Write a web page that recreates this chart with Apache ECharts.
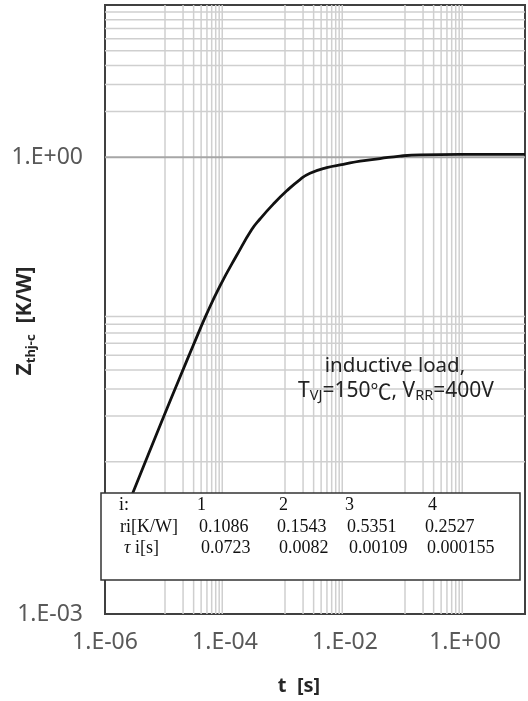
<!DOCTYPE html>
<html><head><meta charset="utf-8">
<script src="https://cdn.jsdelivr.net/npm/echarts@6/dist/echarts.min.js"></script>
<style>html,body{margin:0;padding:0;background:#fff}#c{width:528px;height:701px}</style>
</head><body><div id="c"></div>
<script>
// ---- data ----
const timeValues = [1.5e-6, 2.96e-6, 9.37e-6, 1.78e-5, 2.96e-5, 4.95e-5, 8.26e-5, 1.57e-4, 2.79e-4, 3.83e-4, 6.38e-4, 1.07e-3, 1.78e-3, 2.61e-3, 4.95e-3, 9.37e-3, 0.0178, 0.0383, 0.0826, 0.178, 0.826, 10];
const zthValues  = [0.0032, 0.00635, 0.0195, 0.0360, 0.0582, 0.0935, 0.143, 0.227, 0.335, 0.393, 0.492, 0.602, 0.714, 0.786, 0.855, 0.898, 0.943, 0.980, 1.018, 1.038, 1.045, 1.045];

const xTickValues = [1e-6, 1e-4, 1e-2, 1];
const xTickLabels = ['1.E-06', '1.E-04', '1.E-02', '1.E+00'];
const yTickValues = [1e-3, 1];
const yTickLabels = ['1.E-03', '1.E+00'];

const xMinorGrid = [1e-5, 2e-5, 3e-5, 4e-5, 5e-5, 6e-5, 7e-5, 8e-5, 9e-5,
                    1e-3, 2e-3, 3e-3, 4e-3, 5e-3, 6e-3, 7e-3, 8e-3, 9e-3,
                    0.1, 0.2, 0.3, 0.4, 0.5, 0.6, 0.7, 0.8, 0.9];
const yMinorGrid = [0.01, 0.02, 0.03, 0.04, 0.05, 0.06, 0.07, 0.08, 0.09,
                    2, 3, 4, 5, 6, 7, 8, 9];
const yMajorGrid = [1];

const tableRowLabels = ['i:', 'ri[K/W]', '{it|τ} i[s]'];
const tableIndex = ['1', '2', '3', '4'];
const riValues = ['0.1086', '0.1543', '0.5351', '0.2527'];
const tauValues = ['0.0723', '0.0082', '0.00109', '0.000155'];

const xAxisTitle = 't  [s]';
const yAxisTitle = '{b|Z}{s|thj-c}{b|  [K/W]}';
const annotationLine1 = 'inductive load,';
const annotationLine2 = '{n|T}{s|VJ}{n|=150}{c|℃}{n|, V}{s|RR}{n|=400V}';

// ---- layout ----
const X_MIN = 1e-6, X_MAX = 10, Y_MIN = 1e-3, Y_MAX = 10;
const rowY = [505, 527, 548];
const labelColX = [119, 120, 124];
const colX = [[197, 199, 201], [279, 277, 279], [345, 347, 349], [428, 425, 427]];

function tickLabel(vals, labels) {
  return function (v) {
    for (let i = 0; i < vals.length; i++) {
      if (Math.abs(Math.log10(vals[i]) - Math.log10(v)) < 1e-6) return labels[i];
    }
    return '';
  };
}

const tableTexts = [];
const serif = '18px "Liberation Serif", "Times New Roman", serif';
const rich = { it: { font: 'italic 18px "Liberation Serif", serif', fill: '#111' } };
const rows = [tableIndex, riValues, tauValues];
for (let r = 0; r < 3; r++) {
  tableTexts.push({ type: 'text', z: 101, style: { x: labelColX[r], y: rowY[r], text: tableRowLabels[r], font: serif, fill: '#111', verticalAlign: 'middle', rich: rich } });
  for (let c = 0; c < 4; c++) {
    tableTexts.push({ type: 'text', z: 101, style: { x: colX[c][r], y: rowY[r], text: rows[r][c], font: serif, fill: '#111', verticalAlign: 'middle' } });
  }
}

function gridSeries(list, vertical, color, width) {
  return list.map(v => ({
    type: 'line', silent: true, z: 1, showSymbol: false, symbol: 'none',
    lineStyle: { color: color, width: width },
    data: vertical ? [[v, Y_MIN], [v, Y_MAX]] : [[X_MIN, v], [X_MAX, v]]
  }));
}

const gridColor = '#cfcfcf';
const chart = echarts.init(document.getElementById('c'), null, { renderer: 'canvas' });
chart.setOption({
  animation: false,
  backgroundColor: '#ffffff',
  grid: { left: 105, top: 5, right: 3, bottom: 87, show: true, borderColor: '#404040', borderWidth: 2, containLabel: false, outerBoundsMode: 'none' },
  xAxis: {
    type: 'log', logBase: 10, min: X_MIN, max: X_MAX,
    axisLine: { show: false }, axisTick: { show: false }, splitLine: { show: false },
    axisLabel: { formatter: tickLabel(xTickValues, xTickLabels), margin: 17, color: '#595959', fontSize: 23, fontFamily: '"Noto Sans", sans-serif', showMinLabel: true, showMaxLabel: true, hideOverlap: false },
    name: xAxisTitle, nameLocation: 'middle', nameGap: 62,
    nameTextStyle: { fontSize: 20, fontWeight: 'bold', color: '#262626', fontFamily: '"Noto Sans", sans-serif', padding: [0, 32, 0, 0] }
  },
  yAxis: {
    type: 'log', logBase: 10, min: Y_MIN, max: Y_MAX,
    axisLine: { show: false }, axisTick: { show: false }, splitLine: { show: false },
    axisLabel: { formatter: tickLabel(yTickValues, yTickLabels), margin: 22, color: '#595959', fontSize: 23, fontFamily: '"Noto Sans", sans-serif', showMinLabel: true, showMaxLabel: true, hideOverlap: false }
  },
  series: [
    ...gridSeries(xMinorGrid, true, gridColor, 1.5),
    ...gridSeries(yMinorGrid, false, gridColor, 1.5),
    ...gridSeries(yMajorGrid, false, '#a6a6a6', 2),
    {
      type: 'line', z: 5, showSymbol: false, symbol: 'none', smooth: 0.5,
      lineStyle: { color: '#111111', width: 2.8 },
      data: timeValues.map((t, i) => [t, zthValues[i]])
    }
  ],
  graphic: [
    { type: 'rect', z: 100, shape: { x: 101, y: 493, width: 419, height: 87 }, style: { fill: '#ffffff', stroke: '#333333', lineWidth: 1.5 } },
    ...tableTexts,
    { type: 'text', z: 101, rotation: Math.PI / 2, x: 25, y: 321, style: { x: 0, y: 0, text: yAxisTitle, align: 'center', verticalAlign: 'middle',
      rich: {
        b: { fontSize: 21, fontWeight: 'bold', fill: '#262626', fontFamily: '"Noto Sans", sans-serif', lineHeight: 26 },
        s: { fontSize: 13, fontWeight: 'bold', fill: '#262626', fontFamily: '"Noto Sans", sans-serif', verticalAlign: 'bottom', lineHeight: 18 }
      } } },
    { type: 'text', z: 101, style: { x: 395, y: 366, text: annotationLine1, font: '20.5px "Noto Sans", sans-serif', fill: '#222', align: 'center', verticalAlign: 'middle' } },
    { type: 'text', z: 101, style: { x: 396, y: 391, align: 'center', verticalAlign: 'middle',
      text: annotationLine2,
      rich: {
        n: { fontSize: 21, fontFamily: '"Noto Sans", sans-serif', fill: '#222', lineHeight: 24 },
        c: { fontSize: 21, fontFamily: '"Noto Sans CJK KR", sans-serif', fill: '#222', lineHeight: 24 },
        s: { fontSize: 14.5, fontFamily: '"Noto Sans", sans-serif', fill: '#222', verticalAlign: 'bottom', lineHeight: 18 }
      } } }
  ]
});
</script></body></html>
